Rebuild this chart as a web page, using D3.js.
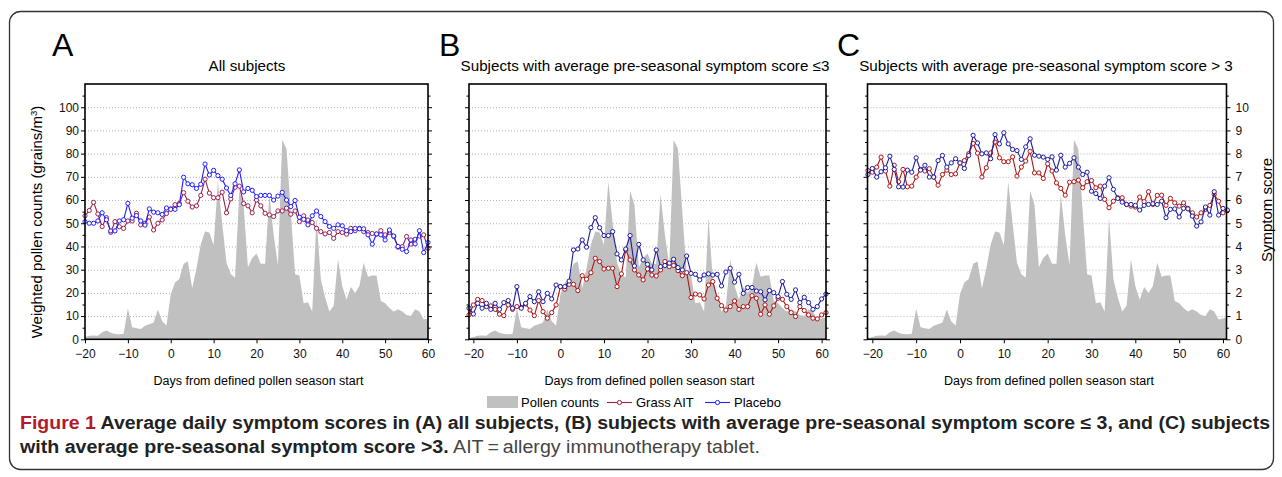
<!DOCTYPE html>
<meta charset="utf-8">
<style>
body {
    margin: 0;
    background: #fff;
    font-family: "Liberation Sans", Arial, sans-serif;
}
.grid line {
    stroke: #b4b4b4;
    stroke-dasharray: 1, 2;
}
.tick text {
    font-size: 12px;
    fill: #111;
}
.tick line {
    stroke: #000;
}
.pollen {
    fill: #c0c0c0;
}
</style>
<body>
<svg id="fig" width="1282" height="477"></svg>
<script src="https://d3js.org/d3.v7.min.js"></script>
<script>
// days -21 .. 61
var days = d3.range(-21, 62);
var daysA = d3.range(-20, 61);

// weighted pollen counts (grains/m3), days -21..61
var pollen = [0.5, 1, 1.5, 1.6, 1.5, 3, 3.8, 2.8, 2.3, 2.2,
    2.4, 13.3, 5.2, 4.8, 4.4, 5.8, 6.5, 7.2, 12.8, 7.8,
    6, 19.5, 24.5, 26, 32.5, 33.5, 22, 30.5, 41, 46.5,
    46, 40.5, 68, 50, 33, 28, 26.5, 64, 58, 31,
    35, 37, 32.5, 32.5, 62.5, 45, 32, 86, 82, 55,
    28, 27.5, 15.5, 16, 12, 52.5, 26, 18, 12, 14.5,
    34.5, 23, 17, 22.5, 20, 23, 33, 27, 27.5, 27.5,
    16.5, 15.5, 13.5, 12, 13, 12, 10.5, 10, 13, 12,
    8.5, 9, 9.5];

// symptom scores, panel A: days -20..60
var aitAll = [5.32, 5.55, 5.9, 5.4, 4.86, 5.24, 4.61, 5.07, 4.85, 4.78,
    5.1, 5.1, 5.43, 4.93, 5.0, 5.27, 4.71, 5.0, 5.14, 5.42,
    5.62, 5.8, 5.85, 6.32, 5.95, 5.7, 5.75, 6.2, 6.9, 6.3,
    6.1, 6.1, 6.34, 5.45, 6.05, 6.55, 6.6, 5.85, 5.75, 5.45,
    6.0, 5.75, 5.43, 5.36, 5.29, 5.53, 5.53, 5.65, 5.39, 5.53,
    5.07, 5.32, 5.14, 5.03, 4.78, 4.64, 4.54, 4.6, 4.35, 4.64,
    4.6, 4.53, 4.78, 4.68, 4.78, 4.64, 4.6, 4.56, 4.53, 4.68,
    4.5, 4.6, 4.43, 3.97, 3.99, 4.43, 4.1, 4.31, 4.45, 4.5,
    3.92];
var placeboAll = [5.07, 5.0, 5.0, 5.1, 5.45, 5.15, 4.67, 4.67, 5.1, 5.15,
    5.86, 5.22, 5.33, 5.1, 4.92, 5.62, 5.48, 5.45, 5.38, 5.66,
    5.6, 5.6, 5.8, 6.98, 6.7, 6.66, 6.5, 6.68, 7.55, 7.08,
    7.28, 7.05, 6.9, 6.52, 6.2, 6.7, 7.3, 6.35, 6.5, 6.42,
    6.15, 6.2, 6.2, 6.2, 6.0, 6.17, 6.33, 6.0, 5.72, 5.98,
    5.26, 5.17, 4.93, 5.32, 5.53, 5.29, 5.07, 4.86, 4.78, 4.93,
    4.89, 4.68, 4.64, 4.78, 4.76, 4.76, 4.5, 4.1, 4.54, 4.5,
    4.28, 4.71, 4.45, 4.0, 3.88, 3.78, 4.28, 4.11, 4.68, 3.74,
    4.17];

// panel B (pre-seasonal score <= 3): days -21..61
var aitLow = [1.05, 1.48, 1.72, 1.67, 1.41, 1.44, 1.29, 1.08, 1.02, 1.48,
    1.29, 1.41, 1.37, 1.52, 1.26, 1.02, 1.67, 1.19, 0.91, 1.15,
    1.48, 2.27, 2.16, 2.37, 2.37, 2.1, 2.74, 2.59, 2.87, 3.49,
    3.35, 3.03, 3.06, 3.06, 2.27, 2.82, 3.85, 3.42, 2.99, 2.77,
    2.56, 3.03, 2.77, 2.73, 2.99, 3.35, 3.13, 3.18, 2.96, 2.74,
    2.87, 1.8, 1.95, 1.91, 1.74, 2.34, 2.49, 1.77, 1.45, 1.26,
    1.41, 1.65, 1.29, 1.41, 1.41, 1.88, 1.77, 1.08, 1.48, 1.08,
    1.44, 1.77, 1.72, 1.41, 1.15, 0.98, 1.41, 1.24, 1.05, 0.91,
    0.88, 1.05, 1.15];
var placeboLow = [1.34, 1.09, 1.55, 1.34, 1.55, 1.29, 1.55, 1.29, 1.58, 1.67,
    1.34, 2.27, 1.34, 1.55, 1.84, 1.62, 2.05, 1.62, 1.98, 1.74,
    2.34, 2.27, 2.27, 2.51, 3.85, 3.89, 4.28, 3.97, 4.81, 5.24,
    4.81, 4.47, 4.47, 4.64, 3.68, 3.42, 3.89, 4.47, 3.16, 4.09,
    3.42, 3.23, 2.99, 3.85, 3.13, 3.18, 3.28, 3.45, 3.09, 2.99,
    3.59, 2.84, 2.8, 2.56, 2.77, 2.82, 2.77, 2.8, 2.3, 2.9,
    3.06, 2.46, 2.8, 1.98, 2.23, 2.23, 2.08, 2.05, 1.7, 2.1,
    2.01, 1.84, 2.49, 1.94, 1.72, 2.13, 1.58, 1.81, 1.58, 1.29,
    1.41, 1.74, 1.95];

// panel C (pre-seasonal score > 3): days -21..61
var aitHigh = [7.27, 7.2, 7.42, 7.85, 7.25, 6.6, 7.5, 6.79, 7.32, 6.57,
    6.6, 6.99, 7.32, 7.25, 7.35, 6.99, 6.64, 7.1, 7.29, 7.1,
    7.13, 7.6, 7.7, 8.0, 8.44, 8.02, 6.99, 7.39, 8.03, 8.5,
    7.82, 7.65, 7.65, 7.86, 7.03, 7.42, 7.68, 8.1, 7.17, 7.17,
    6.93, 7.56, 7.25, 6.74, 6.5, 6.21, 6.77, 6.79, 6.86, 6.53,
    6.79, 6.84, 6.53, 6.6, 6.03, 5.67, 5.95, 6.1, 6.1, 5.81,
    5.74, 5.7, 6.13, 5.93, 6.36, 5.81, 6.2, 6.21, 5.77, 6.07,
    5.88, 5.74, 5.88, 5.64, 5.45, 5.27, 5.45, 5.6, 5.77, 6.24,
    5.95, 5.45, 5.55];
var placeboHigh = [7.1, 7.36, 6.99, 7.22, 7.39, 7.89, 7.32, 6.57, 6.56, 7.29,
    7.2, 7.82, 7.29, 7.5, 6.99, 6.99, 7.7, 7.92, 7.42, 7.6,
    7.78, 7.6, 7.36, 7.92, 8.79, 8.46, 7.99, 8.03, 7.78, 8.82,
    8.42, 8.9, 8.42, 8.18, 8.13, 7.75, 8.29, 8.64, 7.93, 7.89,
    7.85, 7.75, 7.86, 7.29, 7.93, 7.42, 7.58, 7.82, 7.42, 7.1,
    7.2, 6.38, 6.28, 6.07, 6.6, 6.96, 6.46, 6.07, 5.91, 5.81,
    5.81, 5.77, 5.57, 5.77, 5.81, 5.84, 5.81, 5.95, 5.24, 5.6,
    5.62, 5.27, 5.64, 5.62, 5.31, 4.88, 5.06, 5.7, 5.35, 6.36,
    5.35, 5.64, 5.57];

var xTicks = [-20, -10, 0, 10, 20, 30, 40, 50, 60];
var pollenTicks = [0, 10, 20, 30, 40, 50, 60, 70, 80, 90, 100];
var scoreTicks = [0, 1, 2, 3, 4, 5, 6, 7, 8, 9, 10];
var minorTicks = [5, 15, 25, 35, 45, 55, 65, 75, 85, 95, 105];

var panels = [
    {letter: "A", title: "All subjects", left: 85, right: 428, dom: [-20, 60],
     days: daysA, ait: aitAll, placebo: placeboAll, letterX: 52, titleX: 247,
     leftLabels: true, rightLabels: false, aitColor: "#9a1f4e", placeboColor: "#1f1fff"},
    {letter: "B", title: "Subjects with average pre-seasonal symptom score \u22643", left: 469, right: 826, dom: [-21, 61],
     days: days, ait: aitLow, placebo: placeboLow, letterX: 439, titleX: 645,
     leftLabels: false, rightLabels: false, aitColor: "#b01515", placeboColor: "#1c1ca0"},
    {letter: "C", title: "Subjects with average pre-seasonal symptom score > 3", left: 867.5, right: 1226.5, dom: [-21.1, 60.8],
     days: days, ait: aitHigh, placebo: placeboHigh, letterX: 837, titleX: 1046,
     leftLabels: false, rightLabels: true, aitColor: "#b01515", placeboColor: "#1c1ca0"}
];

var plotTop = 84, plotBottom = 339.3;
var svg = d3.select("#fig");

// outer frame
svg.append("rect")
    .attr("x", 9.5).attr("y", 11.5)
    .attr("width", 1264).attr("height", 458)
    .attr("rx", 11)
    .attr("fill", "none")
    .attr("stroke", "#333")
    .attr("stroke-width", 1.3);

var yP = d3.scaleLinear().domain([0, 110]).range([plotBottom, plotTop]);
var yS = d3.scaleLinear().domain([0, 11]).range([plotBottom, plotTop]);

panels.forEach(function(p) {
    var x = d3.scaleLinear().domain(p.dom).range([p.left, p.right]);
    var g = svg.append("g");
    var clipId = "clip" + p.letter;
    svg.append("clipPath").attr("id", clipId)
        .append("rect")
        .attr("x", p.left).attr("y", plotTop)
        .attr("width", p.right - p.left).attr("height", plotBottom - plotTop);

    // grid
    g.append("g").attr("class", "grid")
        .selectAll("line")
        .data(pollenTicks.slice(1))
        .enter().append("line")
        .attr("x1", p.left).attr("x2", p.right)
        .attr("y1", function(d) { return yP(d) + 0.5; })
        .attr("y2", function(d) { return yP(d) + 0.5; });

    // pollen area
    var area = d3.area()
        .x(function(d, i) { return x(days[i]); })
        .y0(plotBottom)
        .y1(function(d) { return yP(d); });
    g.append("path")
        .datum(pollen)
        .attr("class", "pollen")
        .attr("clip-path", "url(#" + clipId + ")")
        .attr("d", area);

    // symptom lines
    var line = d3.line()
        .x(function(d, i) { return x(p.days[i]); })
        .y(function(d) { return yS(d); });
    [["ait", p.aitColor], ["placebo", p.placeboColor]].forEach(function(s) {
        var vals = p[s[0]];
        g.append("path")
            .datum(vals)
            .attr("fill", "none")
            .attr("stroke", s[1])
            .attr("stroke-width", 1.1)
            .attr("d", line);
        g.append("g").selectAll("circle")
            .data(vals)
            .enter().append("circle")
            .attr("cx", function(d, i) { return x(p.days[i]); })
            .attr("cy", function(d) { return yS(d); })
            .attr("r", 2.1)
            .attr("fill", "#fff")
            .attr("stroke", s[1])
            .attr("stroke-width", 1);
    });

    // box
    g.append("rect")
        .attr("x", p.left).attr("y", plotTop)
        .attr("width", p.right - p.left).attr("height", plotBottom - plotTop)
        .attr("fill", "none")
        .attr("stroke", "#000")
        .attr("stroke-width", 1.6);

    // y axes
    var leftAxis = d3.axisLeft(yP).tickValues(pollenTicks).tickSize(4).tickPadding(2)
        .tickFormat(p.leftLabels ? d3.format("d") : "");
    g.append("g").attr("transform", "translate(" + p.left + ",0)").call(leftAxis);
    var rightAxis = d3.axisRight(yS).tickValues(scoreTicks).tickSize(4).tickPadding(5)
        .tickFormat(p.rightLabels ? d3.format("d") : "");
    g.append("g").attr("transform", "translate(" + p.right + ",0)").call(rightAxis);
    g.append("g").attr("transform", "translate(" + p.left + ",0)")
        .call(d3.axisLeft(yP).tickValues(minorTicks).tickSize(2.5).tickFormat(""));
    g.append("g").attr("transform", "translate(" + p.right + ",0)")
        .call(d3.axisRight(yP).tickValues(minorTicks).tickSize(2.5).tickFormat(""));

    // x axis
    g.append("g").attr("transform", "translate(0," + plotBottom + ")")
        .call(d3.axisBottom(x).tickValues(xTicks).tickSize(4).tickPadding(6));

    g.selectAll(".domain").remove();
    g.selectAll(".tick text").attr("font-family", null).attr("font-size", null);

    // x label
    g.append("text")
        .attr("x", (p.left + p.right) / 2 + 2)
        .attr("y", 385)
        .attr("text-anchor", "middle")
        .attr("font-size", 12.5)
        .text("Days from defined pollen season start");

    // title
    g.append("text")
        .attr("x", p.titleX).attr("y", 70.5)
        .attr("text-anchor", "middle")
        .attr("font-size", 15.2)
        .text(p.title);

    // panel letter
    g.append("text")
        .attr("x", p.letterX).attr("y", 56)
        .attr("font-size", 32)
        .text(p.letter);
});

// axis titles
var yt = svg.append("text")
    .attr("transform", "translate(42,222) rotate(-90)")
    .attr("text-anchor", "middle")
    .attr("font-size", 15);
yt.append("tspan").text("Weighted pollen counts (grains/m");
yt.append("tspan").attr("font-size", 9.5).attr("dy", -5).text("3");
yt.append("tspan").attr("dy", 5).text(")");

svg.append("text")
    .attr("transform", "translate(1272,210) rotate(-90)")
    .attr("text-anchor", "middle")
    .attr("font-size", 15)
    .text("Symptom score");

// legend
var leg = svg.append("g").attr("font-size", 13);
leg.append("rect").attr("x", 487).attr("y", 396).attr("width", 31).attr("height", 12).attr("fill", "#c0c0c0");
leg.append("text").attr("x", 521).attr("y", 406.5).text("Pollen counts");
[{x: 607, label: "Grass AIT", color: "#9a1f4e"}, {x: 705, label: "Placebo", color: "#1f1fff"}].forEach(function(l) {
    leg.append("line").attr("x1", l.x).attr("x2", l.x + 25).attr("y1", 402.5).attr("y2", 402.5)
        .attr("stroke", l.color).attr("stroke-width", 1.1);
    leg.append("circle").attr("cx", l.x + 12.5).attr("cy", 402.5).attr("r", 2.1)
        .attr("fill", "#fff").attr("stroke", l.color);
    leg.append("text").attr("x", l.x + 29).attr("y", 406.5).text(l.label);
});

// caption
var cap = svg.append("g").attr("font-size", 17.5);
var c1 = cap.append("text").attr("x", 20).attr("y", 429)
    .attr("textLength", 1250).attr("lengthAdjust", "spacingAndGlyphs")
    .attr("font-weight", "bold").attr("fill", "#222");
c1.append("tspan").attr("fill", "#b5172b").text("Figure 1");
c1.append("tspan").text(" Average daily symptom scores in (A) all subjects, (B) subjects with average pre-seasonal symptom score \u2264 3, and (C) subjects");
var c2 = cap.append("text").attr("x", 20).attr("y", 453)
    .attr("textLength", 740).attr("lengthAdjust", "spacingAndGlyphs").attr("fill", "#222");
c2.append("tspan").attr("font-weight", "bold").text("with average pre-seasonal symptom score >3.");
c2.append("tspan").attr("fill", "#444").text(" AIT\u2009=\u2009allergy immunotherapy tablet.");
</script>
</body>
